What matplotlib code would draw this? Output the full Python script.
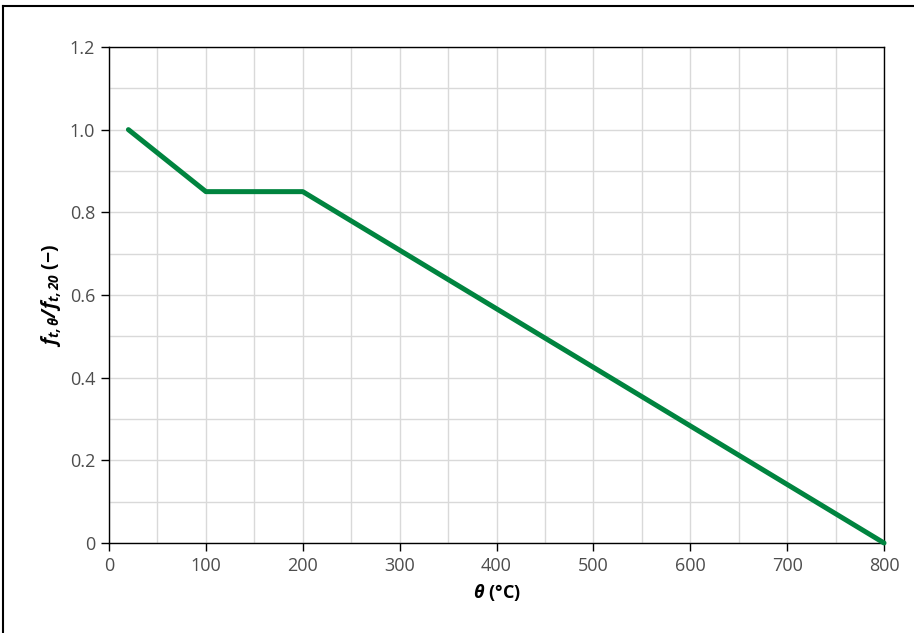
import matplotlib
matplotlib.use('Agg')
import matplotlib.pyplot as plt
from matplotlib.lines import Line2D
from matplotlib.ticker import MultipleLocator

plt.rcParams['font.family'] = ['Open Sans', 'DejaVu Sans']
plt.rcParams['mathtext.fontset'] = 'custom'
plt.rcParams['mathtext.rm'] = 'Open Sans'
plt.rcParams['mathtext.it'] = 'Open Sans:italic'
plt.rcParams['mathtext.bf'] = 'Open Sans:bold'
plt.rcParams['mathtext.bfit'] = 'Open Sans:italic:bold'

# data: reduction factor of tensile strength vs temperature
temp = [20, 100, 200, 800]
factor = [1.0, 0.85, 0.85, 0.0]

fig = plt.figure(figsize=(9.14, 6.33), dpi=100)
ax = fig.add_axes([0.1193, 0.1422, 0.8479, 0.7836])

ax.plot(temp, factor, color='#00843f', lw=3.6, solid_capstyle='round', zorder=3, clip_on=False)

ax.set_xlim(0, 800)
ax.set_ylim(0, 1.2)
ax.xaxis.set_major_locator(MultipleLocator(100))
ax.xaxis.set_minor_locator(MultipleLocator(50))
ax.yaxis.set_major_locator(MultipleLocator(0.2))
ax.yaxis.set_minor_locator(MultipleLocator(0.1))
ax.set_yticks([0, 0.2, 0.4, 0.6, 0.8, 1.0, 1.2])
ax.set_yticklabels(['0', '0.2', '0.4', '0.6', '0.8', '1.0', '1.2'])

ax.grid(which='both', color='#d9d9d9', lw=1, zorder=0)
ax.set_axisbelow(True)
ax.tick_params(which='major', direction='out', length=6, width=1, labelsize=13,
               labelcolor='#4d4d4d', pad=4)
ax.tick_params(which='minor', length=0)
for s in ax.spines.values():
    s.set_linewidth(1)

ax.set_xlabel(r'$\mathbfit{\theta}$ (°C)', fontsize=13, fontweight='bold', labelpad=5)
ax.set_ylabel(r'$\mathbfit{f}_{\mathbfit{t,\theta}}\mathbfit{/f}_{\mathbfit{t,20}}$ (−)',
              fontsize=14, fontweight='bold', labelpad=5)

# partial frame around the figure (top and left edges visible)
fig.add_artist(Line2D([0.0035, 1.0], [0.9905, 0.9905], color='black', lw=1.5, transform=fig.transFigure))
fig.add_artist(Line2D([0.0035, 0.0035], [0.0, 0.9905], color='black', lw=1.5, transform=fig.transFigure))

plt.savefig('out.png', dpi=100)
